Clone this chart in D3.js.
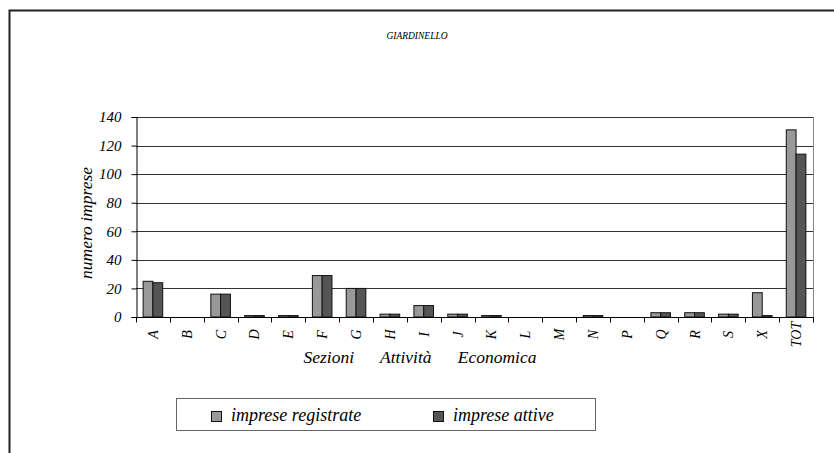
<!DOCTYPE html>
<html><head><meta charset="utf-8">
<script src="https://cdn.jsdelivr.net/npm/d3@7"></script>
<style>body{margin:0;background:#fff}svg{display:block}</style>
</head><body>
<script>
const categories = ["A","B","C","D","E","F","G","H","I","J","K","L","M","N","P","Q","R","S","X","TOT"];
const registrate = [25,0,16,1,1,29,20,2,8,2,1,0,0,1,0,3,3,2,17,131];
const attive     = [24,0,16,1,1,29,20,2,8,2,1,0,0,1,0,3,3,2,1,114];
const seriesNames = ["imprese registrate","imprese attive"];
const seriesColors = ["#999999","#555555"];
const yTicks = [0,20,40,60,80,100,120,140];
const title = "GIARDINELLO";
const yTitle = "numero imprese";
const xTitle = "Sezioni      Attività      Economica";

const FONT = "Liberation Serif";
const W=834,H=453;
const svg=d3.select("body").append("svg").attr("width",W).attr("height",H);
function T_(sel,size){return sel.attr("font-family",FONT).attr("font-style","italic").attr("font-size",size).attr("fill","#000");}
// outer frame
svg.append("path").attr("d","M9.5,"+(H+5)+"V10.5H"+(W+5)).attr("fill","none").attr("stroke","#222").attr("stroke-width",2);

const L=136,R=813,T=117,B=317;
const x=d3.scaleBand().domain(categories).range([L,R]);
const y=d3.scaleLinear().domain([0,140]).range([B,T]);
const bw=9.8;

const g=svg.append("g");
g.selectAll("line.grid").data(yTicks.filter(d=>d>0)).join("line")
 .attr("x1",L).attr("x2",R).attr("y1",d=>Math.round(y(d))+0.5).attr("y2",d=>Math.round(y(d))+0.5)
 .attr("stroke","#333").attr("stroke-width",1);
g.append("line").attr("x1",R+0.5).attr("x2",R+0.5).attr("y1",T).attr("y2",B).attr("stroke","#888");

const data=[registrate,attive];
data.forEach((vals,si)=>{
  g.selectAll("rect.s"+si).data(categories).join("rect")
   .attr("x",c=>x(c)+x.bandwidth()/2-bw+si*bw)
   .attr("y",(c,i)=>y(vals[i]))
   .attr("width",bw)
   .attr("height",(c,i)=>B-y(vals[i]))
   .attr("fill",seriesColors[si]).attr("stroke","#111").attr("stroke-width",1);
});

const ya=svg.append("g").attr("transform","translate("+(L+0.5)+",0)").call(d3.axisLeft(y).tickValues(yTicks).tickSize(5).tickPadding(10).tickFormat(d3.format("d")));
ya.attr("font-family",null).attr("font-size",null);
ya.select(".domain").attr("stroke","#000");
ya.selectAll("line").attr("stroke","#000");
T_(ya.selectAll("text"),15);

const xa=svg.append("g").attr("transform","translate(0,"+(B+0.5)+")");
xa.append("line").attr("x1",L).attr("x2",R+1).attr("stroke","#000");
const bounds=categories.map(c=>x(c)).concat([R]);
xa.selectAll("line.t").data(bounds).join("line").attr("x1",d=>Math.round(d)+0.5).attr("x2",d=>Math.round(d)+0.5).attr("y1",0).attr("y2",5).attr("stroke","#000");
T_(xa.selectAll("text").data(categories).join("text")
 .attr("transform",c=>"translate("+(x(c)+x.bandwidth()/2+5)+",17) rotate(-90)")
 .attr("text-anchor","middle").text(c=>c),14);

T_(svg.append("text").attr("x",417).attr("y",39).attr("text-anchor","middle").text(title),9.5);
T_(svg.append("text").attr("transform","translate(92,223) rotate(-90)").attr("text-anchor","middle").text(yTitle),17.5);
T_(svg.append("text").attr("x",420).attr("y",363).attr("text-anchor","middle").attr("xml:space","preserve").style("white-space","pre").text(xTitle),17.5);

const lg=svg.append("g");
lg.append("rect").attr("x",176.5).attr("y",398.5).attr("width",419).attr("height",32).attr("fill","#fff").attr("stroke","#666");
const lx=[211,433];
seriesNames.forEach((n,i)=>{
  lg.append("rect").attr("x",lx[i]+0.5).attr("y",411.5).attr("width",10).attr("height",10).attr("fill",seriesColors[i]).attr("stroke","#111");
  T_(lg.append("text").attr("x",lx[i]+20).attr("y",421),18).text(n);
});
</script>
</body></html>
